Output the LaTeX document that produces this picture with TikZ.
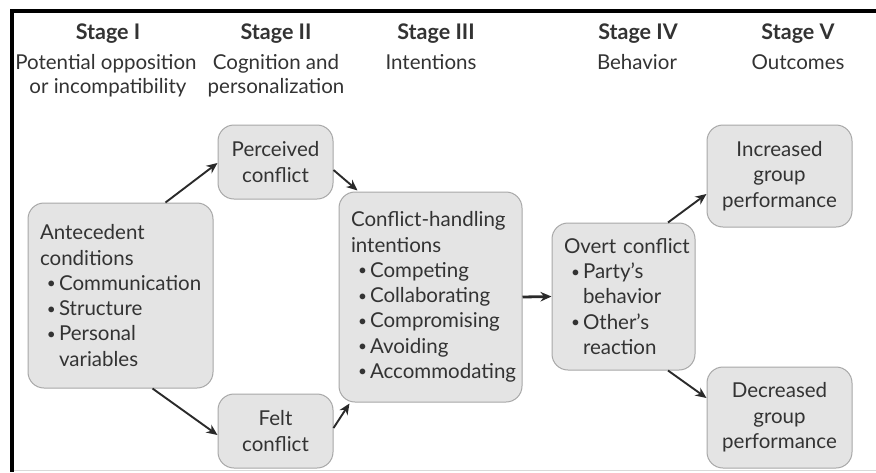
\documentclass[tikz,border=0pt]{standalone}
\usepackage{fontspec}
\setmainfont{Lato}
\usetikzlibrary{arrows.meta}
\definecolor{boxfill}{HTML}{E4E4E4}
\definecolor{boxdraw}{HTML}{A8A8A8}
\definecolor{txt}{HTML}{333333}
\definecolor{arrc}{HTML}{2A2A2A}
\newcommand{\bodyfont}{\fontsize{20.5}{25.3}\selectfont}
\newcommand{\headfont}{\fontsize{21.5}{24}\selectfont\bfseries}
\newcommand{\itm}[1]{\mbox{\hspace{7pt}\makebox[12pt][l]{\raisebox{1.6pt}{\scalebox{0.75}{\textbullet}}}#1}}
\newcommand{\cnt}[1]{\mbox{\hspace{19pt}#1}}
\begin{document}
\begin{tikzpicture}[x=1pt,y=-1pt,
 box/.style={draw=boxdraw, line width=1pt, fill=boxfill, rounded corners=16pt,
   inner xsep=12pt, inner ysep=0pt, text=txt, font=\bodyfont},
 lbox/.style={box, align=left},
 cbox/.style={box, align=center},
 arr/.style={-{Stealth[length=11pt,width=9.5pt]}, line width=1.9pt, draw=arrc},
 hd/.style={font=\headfont, text=txt, anchor=base, inner sep=0pt},
 sub/.style={font=\bodyfont, text=txt, anchor=base, inner sep=0pt}]
\useasboundingbox (0,0) rectangle (876,472);
\fill[white] (0,0) rectangle (876,472);
\draw[black!15, line width=1pt] (12,470.5) -- (876,470.5);
\draw[black, line width=3.5pt] (876,11) -- (12,11) -- (12,472);
% headers
\node[hd] (h1) at (108,39) {Stage I};
\node[hd] (h2) at (276,39) {Stage II};
\node[hd] (h3) at (436,39) {Stage III};
\node[hd] (h4) at (638,39) {Stage IV};
\node[hd] (h5) at (798,39) {Stage V};
\node[sub] (s1a) at (106,69) {Potential opposition};
\node[sub] (s1b) at (108,93) {or incompatibility};
\node[sub] (s2a) at (276,69) {Cognition and};
\node[sub] (s2b) at (276,93) {personalization};
\node[sub] (s3a) at (431,69) {Intentions};
\node[sub] (s4a) at (637,69) {Behavior};
\node[sub] (s5a) at (798,69) {Outcomes};
% boxes
\node[lbox, text width=161pt, minimum height=185pt] (ante) at (120.5,295.5)
  {Antecedent\\conditions\\\itm{Communication}\\\itm{Structure}\\\itm{Personal}\\\cnt{variables}};
\node[cbox, text width=91pt, minimum height=74pt] (perc) at (275.5,162) {Perceived\\conflict};
\node[cbox, text width=91pt, minimum height=74pt] (felt) at (275.5,431) {Felt\\conflict};
\node[lbox, text width=159pt, minimum height=210pt] (chi) at (430.5,297)
  {Conflict-handling\\intentions\\\itm{Competing}\\\itm{Collaborating}\\\itm{Compromising}\\\itm{Avoiding}\\\itm{Accommodating}};
\node[lbox, text width=119pt, minimum height=147pt] (overt) at (623.5,296.5)
  {\mbox{Overt conflict}\\\itm{Party's}\\\cnt{behavior}\\\itm{Other's}\\\cnt{reaction}};
\node[cbox, text width=121pt, minimum height=102pt] (inc) at (779.5,176) {Increased\\group\\performance};
\node[cbox, text width=121pt, minimum height=101pt] (dec) at (779.5,417.5) {Decreased\\group\\performance};
% arrows
\draw[arr] ([xshift=45pt]ante.north) -- ([yshift=-1pt]perc.west);
\draw[arr] ([xshift=32pt]ante.south) -- ([yshift=-4pt]felt.west);
\draw[arr] ([yshift=-8pt]perc.east) -- ([xshift=19pt,yshift=1pt]chi.north west);
\draw[arr] ([yshift=3pt]felt.east) -- ([xshift=11pt,yshift=-1pt]chi.south west);
\draw[arr, line width=2.8pt] (chi.east) -- (overt.west);
\draw[arr] ([xshift=44.5pt]overt.north) -- ([yshift=-18pt]inc.west);
\draw[arr] ([xshift=44.5pt]overt.south) -- ([yshift=19.5pt]dec.west);
\end{tikzpicture}
\end{document}
